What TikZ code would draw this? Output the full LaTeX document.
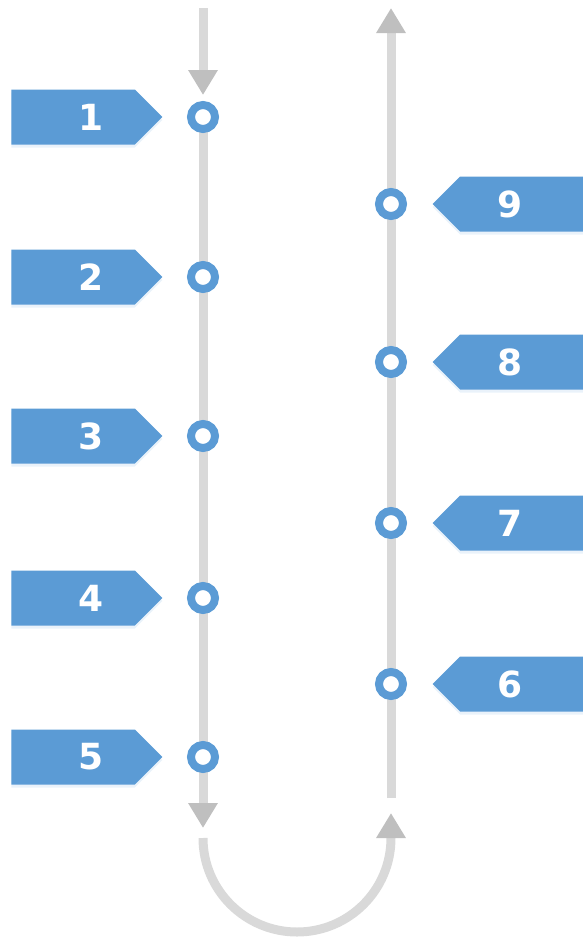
\documentclass[tikz,border=0pt]{standalone}
\usepackage{fontspec}
\setmainfont{DejaVu Sans}
\usepackage{tikz}
\usetikzlibrary{positioning,shapes.symbols,arrows.meta,backgrounds,shadows}
\definecolor{stepblue}{HTML}{5B9BD5}
\definecolor{trackgray}{HTML}{D9D9D9}
\definecolor{tipgray}{HTML}{BFBFBF}

\begin{document}
\begin{tikzpicture}[x=0.5pt,y=-0.5pt,
  track/.style={draw=trackgray,line width=4.5pt},
  tip/.style={-{Triangle[width=14pt,length=12.5pt,color=tipgray]}},
  dot/.style={circle,draw=stepblue,line width=4pt,fill=white,minimum size=12pt,inner sep=0pt},
  tag/.style={signal,signal pointer angle=90,fill=stepblue,text=white,
    font=\bfseries\fontsize{18}{20}\selectfont,minimum width=75.5pt,minimum height=27.5pt,
    inner sep=0pt,drop shadow={shadow xshift=0pt,shadow yshift=-1.5pt,opacity=.25,fill=stepblue!50}},
  tagl/.style={tag,signal to=east,execute at begin node=\hspace*{18pt}},
  tagr/.style={tag,signal to=west,execute at end node=\hspace*{12pt}}]
\useasboundingbox (0,0) rectangle (583,939);
% stations down the left track
\node[dot] (c1) at (203,117) {};
\node[dot] (c2) at (203,277) {};
\node[dot] (c3) at (203,436) {};
\node[dot] (c4) at (203,598) {};
\node[dot] (c5) at (203,757) {};
% stations up the right track
\node[dot] (c6) at (391,684) {};
\node[dot] (c7) at (391,523) {};
\node[dot] (c8) at (391,362) {};
\node[dot] (c9) at (391,204) {};
% tags
\node[tagl,left=12pt of c1] (l1) {1};
\node[tagl,left=12pt of c2] (l2) {2};
\node[tagl,left=12pt of c3] (l3) {3};
\node[tagl,left=12pt of c4] (l4) {4};
\node[tagl,left=12pt of c5] (l5) {5};
\node[tagr,right=12.5pt of c6] (l6) {6};
\node[tagr,right=12.5pt of c7] (l7) {7};
\node[tagr,right=12.5pt of c8] (l8) {8};
\node[tagr,right=12.5pt of c9] (l9) {9};
% track ends
\coordinate (ltop) at (203,8);
\coordinate (lbot) at (203,828);
\coordinate (rtop) at (391,8);
\coordinate (rbot) at (391,798);
\coordinate (arcl) at (203,838);
\coordinate (arcr) at (391,813);
\begin{scope}[on background layer]
\draw[track,tip,shorten >=3pt] (ltop) -- (c1.north);
\draw[track,tip] (c1.center) -- (lbot);
\draw[track,tip] (rbot) -- (rtop);
\draw[track,tip] (arcl) arc[start angle=180,end angle=360,radius=47pt] -- (arcr);
\end{scope}
\end{tikzpicture}
\end{document}
